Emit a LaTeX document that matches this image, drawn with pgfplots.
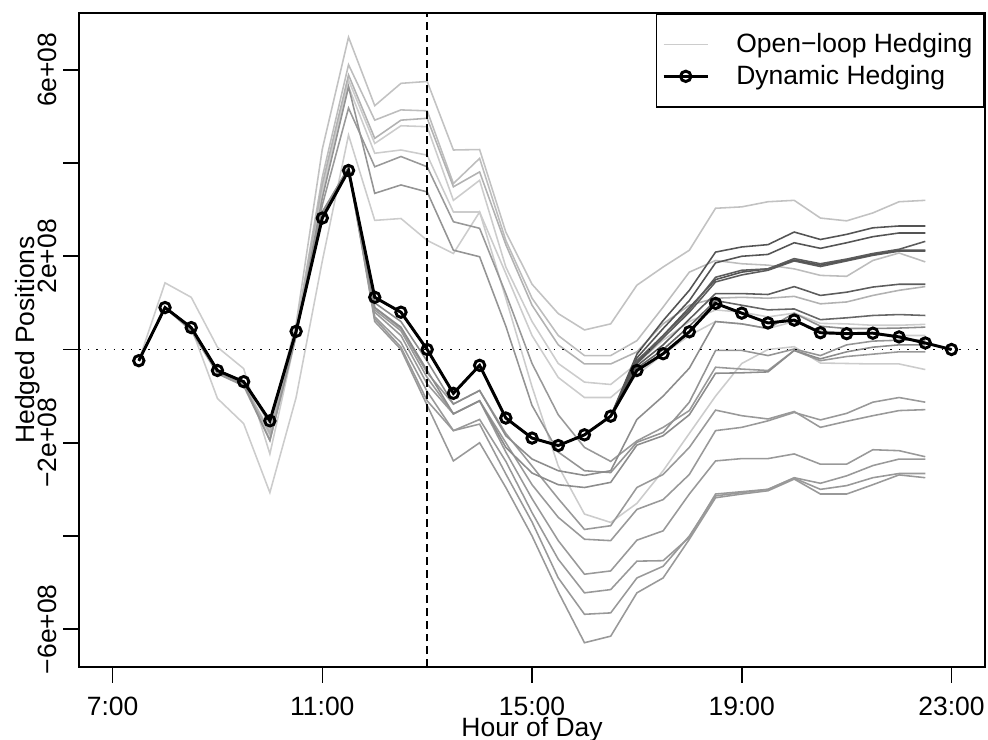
\documentclass[border=0pt]{standalone}
\usepackage{fontspec}
\setmainfont{Liberation Sans}
\usepackage{graphicx}
\usepackage{pgfplots}
\usepackage{pgfplotstable}
\pgfplotsset{compat=1.18}
\newcommand\fs{\fontsize{13.5pt}{16pt}\selectfont}
\definecolor{cA}{gray}{0.76}
\definecolor{cB}{gray}{0.74}
\definecolor{cC}{gray}{0.70}
\definecolor{cD}{gray}{0.80}
\definecolor{cE}{gray}{0.80}
\definecolor{cF}{gray}{0.60}
\definecolor{cG}{gray}{0.58}
\definecolor{cH}{gray}{0.80}
\definecolor{cM}{gray}{0.55}
\definecolor{cW}{gray}{0.60}
\definecolor{cDa}{gray}{0.33}
\definecolor{cDb}{gray}{0.36}
\definecolor{cDc}{gray}{0.40}
\definecolor{legg}{gray}{0.80}

\pgfplotstableread{
t A B C D E F G H Ma Mb Wa Wb Wc Wd We Wf Da Db Dc Dd De Df Dg
7.5 -0.24 -0.24 -0.24 -0.24 -0.24 -0.24 -0.24 -0.24 -0.24 -0.24 -0.24 -0.24 -0.24 -0.24 -0.24 -0.24 -0.24 -0.24 -0.24 -0.24 -0.24 -0.24 -0.24
8.0 0.90 0.90 0.90 0.90 1.43 0.90 0.90 0.90 0.90 0.90 0.90 0.90 0.90 0.90 0.90 0.90 0.90 0.90 0.90 0.90 0.90 0.90 0.90
8.5 0.47 0.45 0.47 0.42 1.12 0.40 0.45 0.47 0.47 0.47 0.47 0.47 0.47 0.47 0.47 0.47 0.47 0.47 0.47 0.47 0.47 0.47 0.47
9.0 -0.45 -0.48 -0.50 -0.45 0.05 -0.52 -0.48 -1.05 -0.45 -0.45 -0.45 -0.45 -0.45 -0.45 -0.45 -0.45 -0.45 -0.45 -0.45 -0.45 -0.45 -0.45 -0.45
9.5 -0.70 -0.74 -0.76 -0.72 -0.41 -0.78 -0.74 -1.59 -0.69 -0.69 -0.69 -0.69 -0.69 -0.69 -0.69 -0.69 -0.69 -0.69 -0.69 -0.69 -0.69 -0.69 -0.69
10.0 -1.60 -1.75 -1.80 -1.85 -2.24 -1.95 -1.95 -3.07 -1.53 -1.53 -1.53 -1.53 -1.53 -1.53 -1.53 -1.53 -1.53 -1.53 -1.53 -1.53 -1.53 -1.53 -1.53
10.5 0.55 0.42 0.40 0.35 0.30 0.30 0.30 -1.03 0.39 0.39 0.39 0.39 0.39 0.39 0.39 0.39 0.39 0.39 0.39 0.39 0.39 0.39 0.39
11.0 4.30 3.70 3.55 3.45 3.35 3.10 3.25 1.90 2.90 2.95 2.85 2.90 2.95 2.88 2.92 2.86 2.82 2.82 2.82 2.82 2.82 2.82 2.82
11.5 6.70 6.11 5.89 5.78 5.64 5.18 5.64 4.60 3.90 3.88 3.86 3.92 3.90 3.88 3.86 3.90 3.84 3.84 3.84 3.84 3.84 3.84 3.84
12.0 5.23 4.92 4.53 4.42 4.21 3.92 3.35 2.77 0.90 1.00 0.90 0.85 0.80 0.70 0.66 0.60 1.12 1.12 1.12 1.12 1.12 1.12 1.12
12.5 5.71 5.14 4.92 4.80 4.28 4.14 3.53 2.81 0.48 0.60 0.45 0.40 0.30 0.15 0.05 0.00 0.80 0.80 0.80 0.80 0.80 0.80 0.80
13.0 5.75 5.12 4.96 4.78 4.17 3.92 3.38 2.34 -0.45 -0.25 -0.50 -0.60 -0.74 -0.90 -1.10 -1.20 0.00 0.00 0.00 0.00 0.00 0.00 0.00
13.5 4.28 3.56 3.49 3.20 2.95 2.74 2.13 2.06 -1.38 -1.17 -1.17 -1.38 -1.38 -1.74 -1.74 -2.39 -0.94 -0.94 -0.94 -0.94 -0.94 -0.94 -0.94
14.0 4.29 4.10 3.81 3.63 2.95 2.60 1.99 2.95 -1.10 -0.88 -0.88 -1.10 -1.10 -1.50 -1.60 -2.00 -0.34 -0.34 -0.34 -0.34 -0.34 -0.34 -0.34
14.5 2.52 2.34 2.25 1.77 1.63 1.20 0.50 1.10 -2.10 -1.85 -1.80 -2.00 -2.20 -2.40 -2.67 -2.96 -1.47 -1.47 -1.47 -1.47 -1.47 -1.47 -1.47
15.0 1.40 1.10 0.95 0.60 0.30 -0.30 -1.20 -0.80 -2.65 -2.35 -2.50 -2.90 -3.20 -3.50 -3.70 -4.00 -1.90 -1.90 -1.90 -1.90 -1.90 -1.90 -1.90
15.5 0.77 0.30 0.10 -0.30 -0.60 -1.40 -2.20 -2.50 -2.90 -2.60 -3.20 -3.60 -4.10 -4.50 -4.90 -5.20 -2.06 -2.06 -2.06 -2.06 -2.06 -2.06 -2.06
16.0 0.42 -0.13 -0.31 -0.70 -1.03 -2.10 -2.60 -3.53 -2.96 -2.70 -3.86 -4.07 -4.82 -5.22 -5.68 -6.29 -1.83 -1.83 -1.83 -1.83 -1.83 -1.83 -1.83
16.5 0.55 -0.13 -0.31 -0.75 -1.03 -2.40 -2.64 -3.71 -2.85 -2.60 -3.78 -4.10 -4.75 -5.15 -5.65 -6.15 -1.43 -1.43 -1.43 -1.43 -1.43 -1.43 -1.43
17.0 1.38 0.19 -0.05 -0.30 -0.55 -1.96 -1.99 -3.30 -2.05 -1.50 -2.96 -3.43 -4.09 -4.54 -4.90 -5.22 -0.10 -0.18 -0.24 -0.28 -0.30 -0.35 -0.40
17.5 1.77 0.91 0.55 0.20 -0.10 -1.67 -1.78 -2.60 -1.85 -1.00 -2.68 -3.22 -3.89 -4.53 -4.65 -4.90 0.62 0.45 0.30 0.30 0.25 0.10 0.00
18.0 2.13 1.66 0.95 0.60 0.30 -1.31 -1.13 -1.80 -1.40 -0.40 -2.10 -2.68 -3.10 -4.03 -4.00 -4.07 1.27 1.05 0.85 0.90 0.80 0.65 0.50
18.5 3.03 1.91 1.10 0.85 0.60 -0.38 -0.02 -1.00 -0.51 0.60 -1.30 -1.74 -2.39 -3.10 -3.14 -3.18 2.09 1.86 1.55 1.50 1.45 1.20 1.05
19.0 3.06 1.84 1.12 0.80 0.55 -0.42 -0.02 -0.30 -0.50 0.55 -1.42 -1.67 -2.34 -3.05 -3.07 -3.10 2.20 2.00 1.70 1.66 1.60 1.20 0.95
19.5 3.17 1.81 1.10 0.70 0.45 -0.45 -0.13 0.00 -0.48 0.45 -1.49 -1.53 -2.34 -3.00 -3.00 -3.03 2.25 2.04 1.73 1.73 1.70 1.18 0.85
20.0 3.20 1.73 1.14 0.78 0.60 -0.02 0.01 0.06 -0.02 0.78 -1.33 -1.35 -2.24 -2.75 -2.76 -2.78 2.52 2.29 1.95 1.92 1.90 1.35 0.87
20.5 2.82 1.59 0.98 0.56 0.40 -0.24 -0.13 -0.29 -0.20 0.50 -1.67 -1.51 -2.46 -2.87 -3.00 -3.10 2.36 2.17 1.84 1.81 1.78 1.16 0.64
21.0 2.76 1.57 1.02 0.55 0.35 -0.15 0.10 -0.30 -0.05 0.45 -1.54 -1.37 -2.46 -2.71 -2.92 -3.10 2.47 2.29 1.94 1.92 1.90 1.23 0.68
21.5 2.93 1.91 1.16 0.52 0.35 -0.10 0.18 -0.31 0.05 0.45 -1.42 -1.13 -2.15 -2.49 -2.75 -2.90 2.61 2.42 2.06 2.04 2.02 1.34 0.73
22.0 3.17 2.07 1.27 0.52 0.30 -0.05 0.20 -0.31 0.10 0.46 -1.31 -1.03 -2.17 -2.35 -2.66 -2.69 2.65 2.50 2.15 2.13 2.11 1.40 0.75
22.5 3.20 1.88 1.35 0.54 0.30 -0.05 0.20 -0.43 0.10 0.48 -1.29 -1.13 -2.30 -2.35 -2.66 -2.75 2.65 2.50 2.32 2.13 2.11 1.40 0.73
}\openloop

\pgfplotstableread{
t v
7.5 -0.24
8.0 0.90
8.5 0.47
9.0 -0.45
9.5 -0.69
10.0 -1.53
10.5 0.39
11.0 2.82
11.5 3.84
12.0 1.12
12.5 0.80
13.0 0.00
13.5 -0.94
14.0 -0.34
14.5 -1.47
15.0 -1.90
15.5 -2.06
16.0 -1.83
16.5 -1.43
17.0 -0.45
17.5 -0.09
18.0 0.38
18.5 0.99
19.0 0.78
19.5 0.57
20.0 0.63
20.5 0.36
21.0 0.34
21.5 0.35
22.0 0.27
22.5 0.14
23.0 0.00
}\dyn

\begin{document}
\begin{tikzpicture}
\begin{axis}[
  scale only axis, width=462pt, height=333.5pt,
  xmin=6.36, xmax=23.64, ymin=-6.81, ymax=7.22,
  axis line style={line width=0.8pt},
  every tick/.style={black, line width=0.8pt},
  tick align=outside, major tick length=8pt,
  xtick pos=bottom, ytick pos=left,
  xtick={7,11,15,19,23}, xticklabels={7:00,11:00,15:00,19:00,23:00},
  ytick={-6,-4,-2,0,2,4,6},
  yticklabels={\rotatebox{90}{−6e+08},,\rotatebox{90}{−2e+08},,\rotatebox{90}{2e+08},,\rotatebox{90}{6e+08}},
  tick label style={font=\fs},
  xticklabel style={anchor=base, yshift=-16.5pt},
  yticklabel style={anchor=east, inner sep=0pt, xshift=-3.4pt},
  label style={font=\fs},
  xlabel={Hour of Day}, ylabel={Hedged Positions},
  xlabel style={at={(axis description cs:0.5,0)}, anchor=base, yshift=-35.4pt},
  ylabel style={at={(axis description cs:-0.0497,0.5)}, anchor=base},
  legend style={at={(1,1)}, anchor=north east, draw=black, line width=0.8pt, fill=white,
    font=\fs, inner xsep=3pt, inner ysep=8pt, row sep=1pt,
    nodes={inner xsep=3pt, inner ysep=2pt},
    /tikz/every odd column/.append style={column sep=10.75pt}},
  legend cell align=left,
  legend image code/.code={\draw[mark repeat=2,mark phase=2,#1] plot coordinates {(0pt,0pt) (11.25pt,0pt) (22.5pt,0pt)};},
]
\addplot[cD, line width=0.8pt, forget plot] table[x=t,y=D]{\openloop};
\addplot[cE, line width=0.8pt, forget plot] table[x=t,y=E]{\openloop};
\addplot[cH, line width=0.8pt, forget plot] table[x=t,y=H]{\openloop};
\addplot[cA, line width=0.8pt, forget plot] table[x=t,y=A]{\openloop};
\addplot[cB, line width=0.8pt, forget plot] table[x=t,y=B]{\openloop};
\addplot[cC, line width=0.8pt, forget plot] table[x=t,y=C]{\openloop};
\addplot[cW, line width=0.8pt, forget plot] table[x=t,y=Wa]{\openloop};
\addplot[cW, line width=0.8pt, forget plot] table[x=t,y=Wb]{\openloop};
\addplot[cW, line width=0.8pt, forget plot] table[x=t,y=Wc]{\openloop};
\addplot[cW, line width=0.8pt, forget plot] table[x=t,y=Wd]{\openloop};
\addplot[cW, line width=0.8pt, forget plot] table[x=t,y=We]{\openloop};
\addplot[cW, line width=0.8pt, forget plot] table[x=t,y=Wf]{\openloop};
\addplot[cF, line width=0.8pt, forget plot] table[x=t,y=F]{\openloop};
\addplot[cG, line width=0.8pt, forget plot] table[x=t,y=G]{\openloop};
\addplot[cM, line width=0.8pt, forget plot] table[x=t,y=Ma]{\openloop};
\addplot[cM, line width=0.8pt, forget plot] table[x=t,y=Mb]{\openloop};
\addplot[cDc, line width=0.8pt, forget plot] table[x=t,y=Dg]{\openloop};
\addplot[cDb, line width=0.8pt, forget plot] table[x=t,y=Df]{\openloop};
\addplot[cDb, line width=0.8pt, forget plot] table[x=t,y=De]{\openloop};
\addplot[cDa, line width=0.8pt, forget plot] table[x=t,y=Dd]{\openloop};
\addplot[cDb, line width=0.8pt, forget plot] table[x=t,y=Dc]{\openloop};
\addplot[cDa, line width=0.8pt, forget plot] table[x=t,y=Db]{\openloop};
\addplot[cDa, line width=0.8pt, forget plot] table[x=t,y=Da]{\openloop};
\addplot[black, line width=0.8pt, dash pattern=on 4pt off 2.5pt, forget plot] coordinates {(13,-6.81) (13,7.22)};
\addplot[black, line width=0.8pt, dash pattern=on 0.8pt off 3.6pt, forget plot] coordinates {(6.36,0) (23.64,0)};
\addlegendimage{legg, line width=0.8pt}
\addlegendentry{Open−loop Hedging}
\addplot[black, line width=1.5pt, mark=o, mark size=2.65pt, mark options={solid, line width=1.5pt}] table[x=t,y=v]{\dyn};
\addlegendentry{Dynamic Hedging}
\coordinate (bbSW) at (rel axis cs:0,0);
\coordinate (bbNE) at (rel axis cs:1,1);
\end{axis}
\pgfresetboundingbox
\path[use as bounding box] ([xshift=-40.3pt,yshift=-37pt]bbSW) rectangle ([xshift=1.5pt,yshift=6.6pt]bbNE);
\end{tikzpicture}
\end{document}
